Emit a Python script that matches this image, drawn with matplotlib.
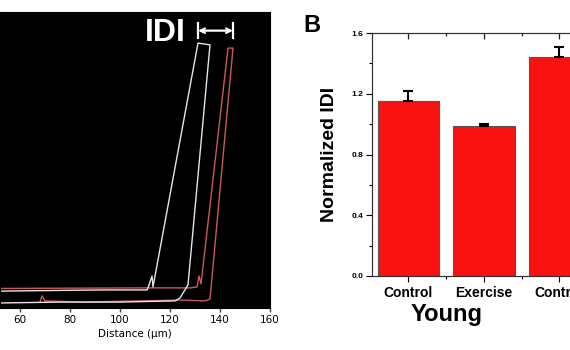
import matplotlib
matplotlib.use("Agg")
import matplotlib.pyplot as plt
from matplotlib.ticker import MultipleLocator, FixedLocator

# ---- Panel A data (traces, distance in um, normalized height) ----
white_x = [52, 76, 100, 122, 124, 127.2, 136, 131.2, 113.2, 112.8, 111.2, 110.8, 92, 52]
white_y = [0.017, 0.020, 0.020, 0.024, 0.034, 0.078, 0.889, 0.895, 0.071, 0.108, 0.068, 0.061, 0.061, 0.057]
red_x = [52, 110.8, 128, 130.8, 131.6, 132.4, 143.2, 145.2, 136, 134, 124, 85.2, 70, 68.8, 68]
red_y = [0.066, 0.068, 0.068, 0.071, 0.108, 0.081, 0.878, 0.878, 0.030, 0.024, 0.027, 0.020, 0.024, 0.041, 0.020]
a_xticks = [60, 80, 100, 120, 140, 160]

# ---- Panel B data ----
categories = ["Control", "Exercise", "Control"]
values = [1.15, 0.99, 1.44]
errors = [0.07, 0.012, 0.065]
y_ticks = [0.0, 0.4, 0.8, 1.2, 1.6]

fig = plt.figure(figsize=(5.7, 3.5), dpi=100)
fig.patch.set_facecolor("white")

# ---------------- Panel A ----------------
axA = fig.add_axes([0.0, 42/350, 270/570, 296/350])
axA.set_facecolor("black")
axA.plot(red_x, red_y, color="#c85a5a", lw=1.0)
axA.plot(white_x, white_y, color="#e6e6e6", lw=1.0)
axA.set_xlim(52, 160)
axA.set_ylim(0, 1)
axA.set_yticks([])
axA.set_xticks(a_xticks)
axA.tick_params(axis="x", direction="out", length=3, width=1, color="#444444",
                labelsize=7.5, pad=2)
for s in axA.spines.values():
    s.set_color("black")
axA.set_xlabel("Distance (\u03bcm)", fontsize=7.5, labelpad=3)
axA.text(118, 0.929, "IDI", color="white", fontsize=23, fontweight="bold",
         family="Liberation Sans", ha="center", va="center")
x0 = min(white_x[6], white_x[7])
x1 = max(red_x[6], red_x[7])
axA.annotate("", xy=(x0, 0.937), xytext=(x1, 0.937),
             arrowprops=dict(arrowstyle="<->", color="white", lw=1.6,
                             shrinkA=0, shrinkB=0, mutation_scale=8))
axA.plot([x0, x0], [0.912, 0.963], color="white", lw=1.6)
axA.plot([x1, x1], [0.912, 0.963], color="white", lw=1.6)

# ---------------- Panel B ----------------
left_px = 371.7
axB = fig.add_axes([left_px/570, (350-276)/350, (570-left_px)/570, (276-33)/350])
xpos = list(range(len(categories)))
axB.bar(xpos, values, width=0.81, color="#fa1212", edgecolor="#555555", linewidth=0.8,
        zorder=2)
axB.errorbar(xpos, values, yerr=[[0]*len(errors), errors], fmt="none",
             ecolor="black", elinewidth=1.5, capsize=3.5, capthick=1.5, zorder=3)
xl = (-0.487, -0.487 + (570 - left_px)/75.5)
axB.set_xlim(*xl)
axB.set_ylim(0, 1.6)
axB.set_yticks(y_ticks)
axB.set_yticklabels([f"{v:.1f}" for v in y_ticks], fontsize=6, fontweight="bold",
                    family="Liberation Sans")
axB.yaxis.set_minor_locator(MultipleLocator(0.2))
axB.set_xticks(xpos)
axB.set_xticklabels(categories, fontsize=10, fontweight="bold", family="Liberation Sans")
axB.xaxis.set_minor_locator(FixedLocator([i + 0.5 for i in xpos]))
axB.tick_params(axis="y", which="major", direction="out", length=4, width=0.8, pad=2)
axB.tick_params(axis="y", which="minor", direction="out", length=2, width=0.8)
axB.tick_params(axis="x", which="major", direction="out", length=4, width=0.8, pad=3)
axB.tick_params(axis="x", which="minor", direction="out", length=2, width=0.8)
axT = axB.twiny()
axT.set_xlim(*xl)
axT.set_xticks(xpos)
axT.set_xticklabels([])
axT.xaxis.set_minor_locator(FixedLocator([i + 0.5 for i in xpos]))
axT.tick_params(axis="x", which="major", direction="in", length=4, width=0.9,
                color="#222222")
axT.tick_params(axis="x", which="minor", direction="in", length=2.5, width=0.9,
                color="#222222")
for ax in (axB, axT):
    ax.spines["right"].set_visible(False)
    for s in ["left", "top", "bottom"]:
        ax.spines[s].set_linewidth(0.8)
        ax.spines[s].set_color("#333333")
axB.set_ylabel("Normalized IDI", fontsize=14, fontweight="bold", family="Liberation Sans",
               labelpad=10)
fig.text(447/570, 1 - 315/350, "Young", fontsize=17, fontweight="bold",
         family="Liberation Sans", ha="center", va="center")
fig.text(312/570, 1 - 25/350, "B", fontsize=17, fontweight="bold",
         family="Liberation Sans", ha="center", va="center")

fig.savefig("out.png", dpi=100, facecolor="white")
